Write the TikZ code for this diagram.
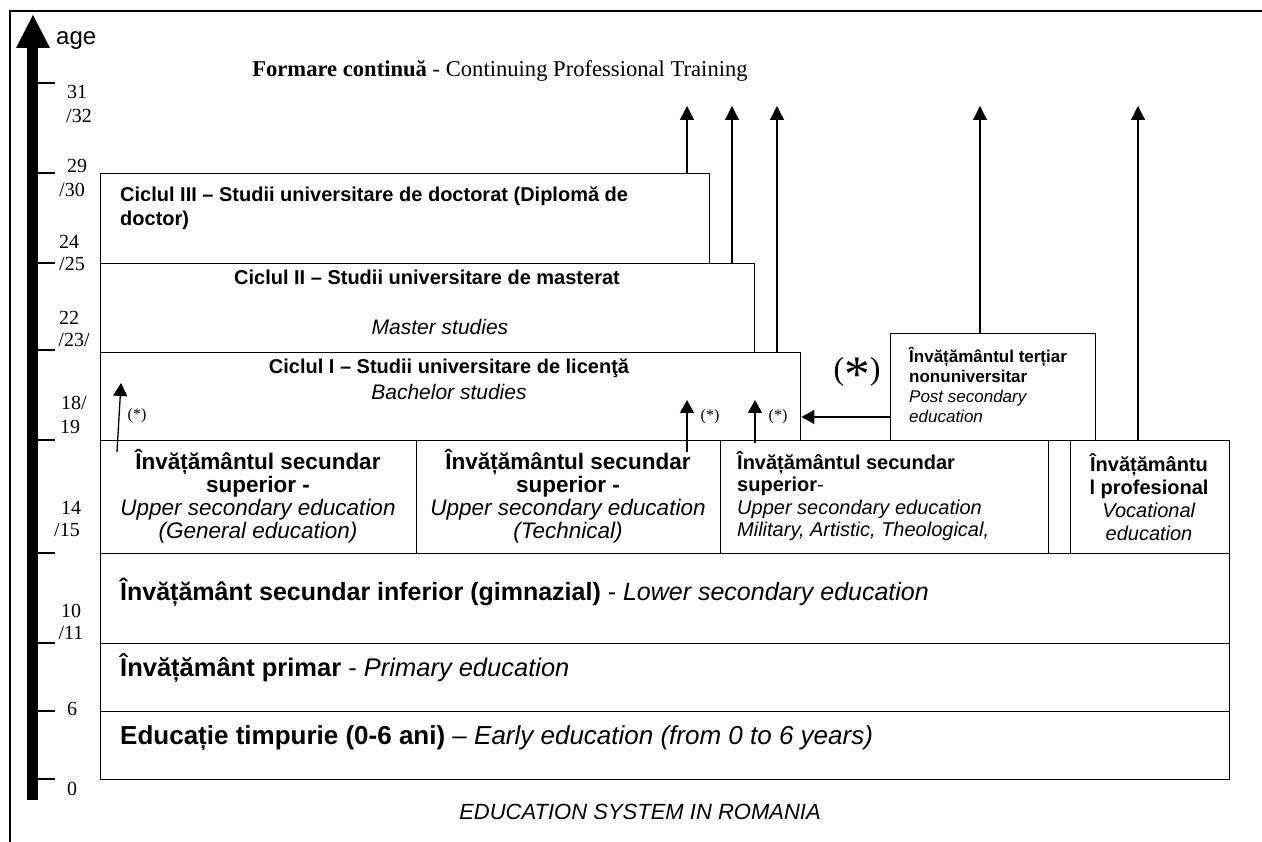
\documentclass[tikz,border=0pt]{standalone}
\usepackage{fontspec}
\usepackage{graphicx}
\setmainfont{Liberation Serif}
\newfontfamily\ar{Liberation Sans}
\usetikzlibrary{arrows.meta}
\newcommand\fz[2]{\fontsize{#1pt}{#2pt}\selectfont}
\begin{document}
\begin{tikzpicture}[x=1pt,y=-1pt,
  box/.style={draw, line width=1.4pt, anchor=north west, inner sep=0pt},
  arr/.style={line width=1.3pt, -{Triangle[width=14pt,length=14pt]}},
  sarr/.style={line width=1.3pt, -{Triangle[width=14pt,length=13pt]}},
  tick/.style={line width=1.5pt},
  agelbl/.style={inner sep=0pt, font=\fz{20}{22}},
  star/.style={inner sep=0pt, font=\fz{16}{18}},
  txt/.style={inner sep=0pt, font=\ar},
]
\useasboundingbox (0,0) rectangle (1262,842);
% frame
\draw[line width=1.5pt] (10,842) -- (10,11) -- (1262,11);
% axis
\fill (27,800) rectangle (38,48);
\fill (16,48) -- (33,15) -- (50,48) -- cycle;
\node[txt, font=\ar\fz{24}{28}, anchor=west] (age) at (56,41) {age};
\foreach \yy in {83,173,263,350,440,553,643,711,779}{\draw[tick] (38,\yy) -- (55,\yy);}
\node[agelbl] (l31) at (77,92) {31};
\node[agelbl] (l32) at (79,116) {/32};
\node[agelbl] (l29) at (77,166) {29};
\node[agelbl] (l30) at (72,190) {/30};
\node[agelbl] (l24) at (69,242) {24};
\node[agelbl] (l25) at (72,264) {/25};
\node[agelbl] (l22) at (69,318) {22};
\node[agelbl] (l23) at (74,340) {/23/};
\node[agelbl] (l18) at (74,403) {18/};
\node[agelbl] (l19) at (70,427) {19};
\node[agelbl] (l14) at (71,508) {14};
\node[agelbl] (l15) at (67,530) {/15};
\node[agelbl] (l10) at (71,611) {10};
\node[agelbl] (l11) at (71,633) {/11};
\node[agelbl] (l6) at (72,709) {6};
\node[agelbl] (l0) at (72,789) {0};
% title
\node[inner sep=0pt, font=\fz{22.6}{26}] (title) at (500,71) {\textbf{Formare continuă} - Continuing Professional Training};
% boxes
\node[box, minimum width=609pt, minimum height=90pt] (c3) at (100,173) {};
\node[box, minimum width=654pt, minimum height=89pt] (c2) at (100,263) {};
\node[box, minimum width=700pt, minimum height=88pt] (c1) at (100,352) {};
\node[box, minimum width=205pt, minimum height=107pt] (tert) at (890,333) {};
\node[box, minimum width=316pt, minimum height=113pt] (usg) at (100,440) {};
\node[box, minimum width=304pt, minimum height=113pt] (ust) at (416,440) {};
\node[box, minimum width=328pt, minimum height=113pt] (usm) at (720,440) {};
\node[box, minimum width=22pt, minimum height=113pt] (nar) at (1048,440) {};
\node[box, minimum width=159pt, minimum height=113pt] (voc) at (1070,440) {};
\node[box, minimum width=1129pt, minimum height=90pt] (ls) at (100,553) {};
\node[box, minimum width=1129pt, minimum height=68pt] (pr) at (100,643) {};
\node[box, minimum width=1129pt, minimum height=68pt] (ea) at (100,711) {};
% texts
\node[txt, font=\ar\bfseries\fz{20}{24}, anchor=west, align=left] (t3) at (120,208) {Ciclul III – Studii universitare de doctorat (Diplomă de\\doctor)};
\node[txt, font=\ar\bfseries\fz{20}{24}] (t2a) at (427,277) {Ciclul II – Studii universitare de masterat};
\node[txt, font=\ar\itshape\fz{21}{24}] (t2b) at (440,327) {Master studies};
\node[txt, font=\ar\bfseries\fz{20}{24}] (t1a) at (449,368) {Ciclul I – Studii universitare de licenţă};
\node[txt, font=\ar\itshape\fz{21}{24}] (t1b) at (449,392) {Bachelor studies};
\node[txt, font=\ar\fz{22.5}{23}, align=center] (tg) at (258,496) {\textbf{Învățământul secundar}\\\textbf{superior -}\\\textit{Upper secondary education}\\\textit{(General education)}};
\node[txt, font=\ar\fz{22.5}{23}, align=center] (tt) at (568,496) {\textbf{Învățământul secundar}\\\textbf{superior -}\\\textit{Upper secondary education}\\\textit{(Technical)}};
\node[txt, font=\ar\fz{20}{22.5}, align=left, anchor=west] (tm) at (737,496) {\textbf{Învățământul secundar}\\\textbf{superior}-\\\textit{Upper secondary education}\\\textit{Military, Artistic, Theological,}};
\node[txt, font=\ar\fz{20}{23}, align=center] (tv) at (1149,497) {\textbf{Învățământu}\\\textbf{l profesional}\\\textit{Vocational}\\\textit{education}};
\node[txt, font=\ar\fz{17}{20}, align=left, anchor=west] (tte) at (909,385) {\textbf{Învățământul terțiar}\\\textbf{nonuniversitar}\\\textit{Post secondary}\\\textit{education}};
\node[txt, font=\ar\fz{25}{28}, anchor=west] (tls) at (120,592) {\textbf{Învățământ secundar inferior (gimnazial)} - \textit{Lower secondary education}};
\node[txt, font=\ar\fz{25.5}{28}, anchor=west] (tpr) at (120,668) {\textbf{Învățământ primar} - \textit{Primary education}};
\node[txt, font=\ar\fz{26}{28}, anchor=west] (tea) at (120,738) {\textbf{Educație timpurie (0-6 ani)} – \textit{Early education (from 0 to 6 years)}};
\node[txt, font=\ar\itshape\fz{22}{24}] (cap) at (640,812) {EDUCATION SYSTEM IN ROMANIA};
% long arrows
\coordinate (u1) at (687,106);
\coordinate (u2) at (732,106);
\coordinate (u3) at (777,106);
\coordinate (u4) at (980,106);
\coordinate (u5) at (1138,106);
\draw[arr] (u1 |- c3.north) -- (u1);
\draw[arr] (u2 |- c2.north) -- (u2);
\draw[arr] (u3 |- c1.north) -- (u3);
\draw[arr] (u4 |- tert.north) -- (u4);
\draw[arr] (u5 |- voc.north) -- (u5);
% small arrows
\coordinate (s1a) at (117,452); \coordinate (s1b) at (121,383);
\coordinate (s2a) at (687,452); \coordinate (s2b) at (687,400);
\coordinate (s3a) at (755,443); \coordinate (s3b) at (755,400);
\coordinate (hh) at (0,417);
\draw[sarr] (s1a) -- (s1b);
\draw[sarr] (s2a) -- (s2b);
\draw[sarr] (s3a) -- (s3b);
\draw[sarr] (tert.west |- hh) -- (c1.east |- hh);
\node[star] (st1) at (137,416) {(*)};
\node[star] (st2) at (710,417) {(*)};
\node[star] (st3) at (778,417) {(*)};
\node[inner sep=0pt, font=\fz{32}{34}] (stbig) at (857,374) {(\raisebox{-12pt}{\scalebox{1.6}{*}})};
\end{tikzpicture}
\end{document}
